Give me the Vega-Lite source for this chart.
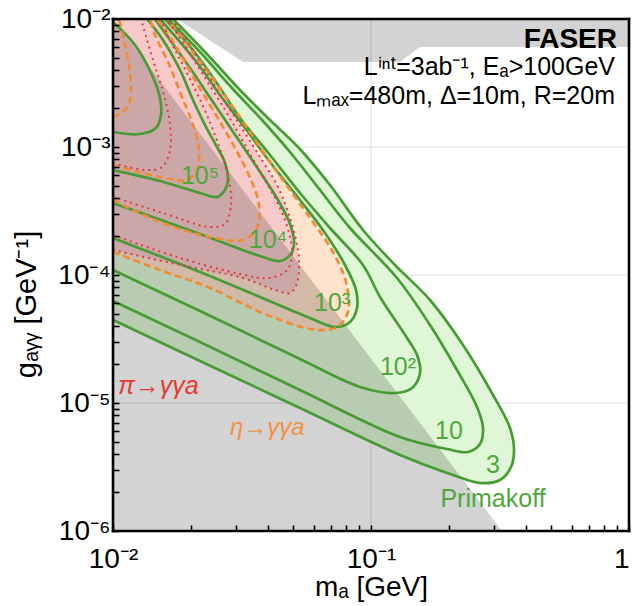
{
"$schema":"https://vega.github.io/schema/vega-lite/v6.json",
"width":516,"height":512,
"autosize":{"type":"none"},
"padding":{"left":113,"top":19,"right":6,"bottom":75},
"background":"white",
"config":{"view":{"stroke":null},"font":"Liberation Sans"},
"datasets":{
"curves":[
{"c":"G3","i":0,"m":0.01,"g":4.45e-5},{"c":"G3","i":1,"m":0.02174,"g":2.129e-5},{"c":"G3","i":2,"m":0.05306,"g":9.14e-6},{"c":"G3","i":3,"m":0.1295,"g":3.923e-6},{"c":"G3","i":4,"m":0.2025,"g":2.788e-6},{"c":"G3","i":5,"m":0.2645,"g":2.371e-6},{"c":"G3","i":6,"m":0.3162,"g":2.503e-6},{"c":"G3","i":7,"m":0.3489,"g":3.162e-6},{"c":"G3","i":8,"m":0.3584,"g":4.293e-6},{"c":"G3","i":9,"m":0.3458,"g":6.378e-6},{"c":"G3","i":10,"m":0.2971,"g":1.155e-5},{"c":"G3","i":11,"m":0.2273,"g":2.839e-5},{"c":"G3","i":12,"m":0.1693,"g":6.378e-5},{"c":"G3","i":13,"m":0.1239,"g":1.197e-4},{"c":"G3","i":14,"m":0.09311,"g":2.247e-4},{"c":"G3","i":15,"m":0.06935,"g":5.048e-4},{"c":"G3","i":16,"m":0.05212,"g":1e-3},{"c":"G3","i":17,"m":0.0406,"g":1.625e-3},{"c":"G3","i":18,"m":0.03106,"g":2.788e-3},{"c":"G3","i":19,"m":0.02273,"g":5.524e-3},{"c":"G3","i":20,"m":0.01708,"g":1e-2},{"c":"G3","i":99,"m":0.01,"g":1e-2,"e":1},
{"c":"G10","i":0,"m":0.01,"g":6.265e-5},{"c":"G10","i":1,"m":0.02174,"g":2.996e-5},{"c":"G10","i":2,"m":0.05306,"g":1.264e-5},{"c":"G10","i":3,"m":0.1295,"g":5.425e-6},{"c":"G10","i":4,"m":0.1971,"g":4.371e-6},{"c":"G10","i":5,"m":0.2377,"g":4.142e-6},{"c":"G10","i":6,"m":0.2645,"g":4.783e-6},{"c":"G10","i":7,"m":0.2717,"g":6.378e-6},{"c":"G10","i":8,"m":0.2576,"g":9.305e-6},{"c":"G10","i":9,"m":0.2154,"g":1.811e-5},{"c":"G10","i":10,"m":0.1693,"g":4.068e-5},{"c":"G10","i":11,"m":0.1261,"g":9.475e-5},{"c":"G10","i":12,"m":0.08291,"g":2.329e-4},{"c":"G10","i":13,"m":0.06342,"g":4.614e-4},{"c":"G10","i":14,"m":0.04853,"g":9.14e-4},{"c":"G10","i":15,"m":0.03781,"g":1.625e-3},{"c":"G10","i":16,"m":0.02892,"g":2.891e-3},{"c":"G10","i":17,"m":0.02174,"g":5.524e-3},{"c":"G10","i":18,"m":0.01634,"g":1e-2},
{"c":"G100","i":0,"m":0.01,"g":1.094e-4},{"c":"G100","i":1,"m":0.02174,"g":5.233e-5},{"c":"G100","i":2,"m":0.05306,"g":2.207e-5},{"c":"G100","i":3,"m":0.09065,"g":1.334e-5},{"c":"G100","i":4,"m":0.1239,"g":1.197e-5},{"c":"G100","i":5,"m":0.1442,"g":1.31e-5},{"c":"G100","i":6,"m":0.1549,"g":1.716e-5},{"c":"G100","i":7,"m":0.1508,"g":2.371e-5},{"c":"G100","i":8,"m":0.1379,"g":3.22e-5},{"c":"G100","i":9,"m":0.1084,"g":6.733e-5},{"c":"G100","i":10,"m":0.09311,"g":1.197e-4},{"c":"G100","i":11,"m":0.06935,"g":2.329e-4},{"c":"G100","i":12,"m":0.05306,"g":4.371e-4},{"c":"G100","i":13,"m":0.0406,"g":8.66e-4},{"c":"G100","i":14,"m":0.03106,"g":1.685e-3},{"c":"G100","i":15,"m":0.02553,"g":3.051e-3},{"c":"G100","i":16,"m":0.02042,"g":5.727e-3},{"c":"G100","i":17,"m":0.01591,"g":1e-2},
{"c":"G1000","i":0,"m":0.01,"g":1.946e-4},{"c":"G1000","i":1,"m":0.02174,"g":1.055e-4},{"c":"G1000","i":2,"m":0.03714,"g":6.733e-5},{"c":"G1000","i":3,"m":0.05801,"g":4.614e-5},{"c":"G1000","i":4,"m":0.07251,"g":3.923e-5},{"c":"G1000","i":5,"m":0.08291,"g":4.293e-5},{"c":"G1000","i":6,"m":0.08825,"g":5.524e-5},{"c":"G1000","i":7,"m":0.08748,"g":7.634e-5},{"c":"G1000","i":8,"m":0.07929,"g":1.197e-4},{"c":"G1000","i":9,"m":0.06632,"g":2.129e-4},{"c":"G1000","i":10,"m":0.05306,"g":3.854e-4},{"c":"G1000","i":11,"m":0.0406,"g":7.634e-4},{"c":"G1000","i":12,"m":0.03248,"g":1.407e-3},{"c":"G1000","i":13,"m":0.02598,"g":2.548e-3},{"c":"G1000","i":14,"m":0.02079,"g":4.783e-3},{"c":"G1000","i":15,"m":0.01521,"g":1e-2},
{"c":"G1e4","i":0,"m":0.01,"g":3.652e-4},{"c":"G1e4","i":1,"m":0.02174,"g":2.091e-4},{"c":"G1e4","i":2,"m":0.03714,"g":1.407e-4},{"c":"G1e4","i":3,"m":0.0444,"g":1.287e-4},{"c":"G1e4","i":4,"m":0.04897,"g":1.459e-4},{"c":"G1e4","i":5,"m":0.0503,"g":1.811e-4},{"c":"G1e4","i":6,"m":0.04853,"g":2.503e-4},{"c":"G1e4","i":7,"m":0.04361,"g":3.854e-4},{"c":"G1e4","i":8,"m":0.03781,"g":6.042e-4},{"c":"G1e4","i":9,"m":0.03106,"g":1.094e-3},{"c":"G1e4","i":10,"m":0.02485,"g":2.129e-3},{"c":"G1e4","i":11,"m":0.01988,"g":4.142e-3},{"c":"G1e4","i":12,"m":0.01664,"g":6.853e-3},{"c":"G1e4","i":13,"m":0.01455,"g":1e-2},
{"c":"G1e5","i":0,"m":0.01,"g":6.611e-4},{"c":"G1e5","i":1,"m":0.01521,"g":5.425e-4},{"c":"G1e5","i":2,"m":0.02174,"g":4.371e-4},{"c":"G1e5","i":3,"m":0.0253,"g":4.068e-4},{"c":"G1e5","i":4,"m":0.02717,"g":4.614e-4},{"c":"G1e5","i":5,"m":0.02791,"g":5.524e-4},{"c":"G1e5","i":6,"m":0.02717,"g":7.499e-4},{"c":"G1e5","i":7,"m":0.0253,"g":1e-3},{"c":"G1e5","i":8,"m":0.02273,"g":1.485e-3},{"c":"G1e5","i":9,"m":0.02042,"g":2.329e-3},{"c":"G1e5","i":10,"m":0.01819,"g":3.996e-3},{"c":"G1e5","i":11,"m":0.01562,"g":6.853e-3},{"c":"G1e5","i":12,"m":0.01355,"g":1e-2},
{"c":"G1e6","i":0,"m":0.01,"g":9.475e-3},{"c":"G1e6","i":1,"m":0.01217,"g":6.265e-3},{"c":"G1e6","i":2,"m":0.01417,"g":3.652e-3},{"c":"G1e6","i":3,"m":0.01521,"g":2.415e-3},{"c":"G1e6","i":4,"m":0.01535,"g":1.778e-3},{"c":"G1e6","i":5,"m":0.01468,"g":1.407e-3},{"c":"G1e6","i":6,"m":0.01273,"g":1.264e-3},{"c":"G1e6","i":7,"m":0.01,"g":1.31e-3},
{"c":"E1","i":0,"m":0.01,"g":1.746e-3},{"c":"E1","i":1,"m":0.01084,"g":1.844e-3},{"c":"E1","i":2,"m":0.01153,"g":2.168e-3},{"c":"E1","i":3,"m":0.01174,"g":2.788e-3},{"c":"E1","i":4,"m":0.01153,"g":4.371e-3},{"c":"E1","i":5,"m":0.01103,"g":6.853e-3},{"c":"E1","i":6,"m":0.01055,"g":1e-2},
{"c":"E2","i":0,"m":0.01,"g":7.235e-4},{"c":"E2","i":1,"m":0.01521,"g":5.83e-4},{"c":"E2","i":2,"m":0.01935,"g":5.524e-4},{"c":"E2","i":3,"m":0.02116,"g":6.611e-4},{"c":"E2","i":4,"m":0.02154,"g":9.475e-4},{"c":"E2","i":5,"m":0.02042,"g":1.485e-3},{"c":"E2","i":6,"m":0.01851,"g":2.459e-3},{"c":"E2","i":7,"m":0.01634,"g":4.614e-3},{"c":"E2","i":8,"m":0.01455,"g":7.499e-3},{"c":"E2","i":9,"m":0.01391,"g":1e-2},
{"c":"E3","i":0,"m":0.01,"g":3.854e-4},{"c":"E3","i":1,"m":0.01521,"g":2.595e-4},{"c":"E3","i":2,"m":0.02377,"g":1.981e-4},{"c":"E3","i":3,"m":0.0319,"g":1.877e-4},{"c":"E3","i":4,"m":0.03615,"g":2.329e-4},{"c":"E3","i":5,"m":0.03681,"g":3.524e-4},{"c":"E3","i":6,"m":0.03427,"g":5.524e-4},{"c":"E3","i":7,"m":0.02998,"g":9.475e-4},{"c":"E3","i":8,"m":0.02507,"g":1.778e-3},{"c":"E3","i":9,"m":0.02079,"g":3.338e-3},{"c":"E3","i":10,"m":0.01693,"g":6.853e-3},{"c":"E3","i":11,"m":0.01481,"g":1e-2},
{"c":"E4","i":0,"m":0.01,"g":1.512e-4},{"c":"E4","i":1,"m":0.01521,"g":1.094e-4},{"c":"E4","i":2,"m":0.02377,"g":7.913e-5},{"c":"E4","i":3,"m":0.03953,"g":4.87e-5},{"c":"E4","i":4,"m":0.06175,"g":3.718e-5},{"c":"E4","i":5,"m":0.07381,"g":3.923e-5},{"c":"E4","i":6,"m":0.08145,"g":5.14e-5},{"c":"E4","i":7,"m":0.08,"g":8.818e-5},{"c":"E4","i":8,"m":0.07122,"g":1.512e-4},{"c":"E4","i":9,"m":0.05958,"g":2.595e-4},{"c":"E4","i":10,"m":0.04853,"g":4.614e-4},{"c":"E4","i":11,"m":0.03781,"g":9.475e-4},{"c":"E4","i":12,"m":0.02971,"g":1.946e-3},{"c":"E4","i":13,"m":0.02273,"g":4.142e-3},{"c":"E4","i":14,"m":0.01819,"g":7.499e-3},{"c":"E4","i":15,"m":0.01619,"g":1e-2},{"c":"E4","i":99,"m":0.01,"g":1e-2,"e":1},
{"c":"P1","i":0,"m":0.01,"g":7.499e-4},{"c":"P1","i":1,"m":0.01331,"g":6.611e-4},{"c":"P1","i":2,"m":0.01549,"g":6.978e-4},{"c":"P1","i":3,"m":0.01664,"g":9.475e-4},{"c":"P1","i":4,"m":0.01664,"g":1.485e-3},{"c":"P1","i":5,"m":0.01576,"g":2.548e-3},{"c":"P1","i":6,"m":0.01429,"g":4.783e-3},{"c":"P1","i":7,"m":0.01284,"g":1e-2},
{"c":"P2","i":0,"m":0.01,"g":4.068e-4},{"c":"P2","i":1,"m":0.01521,"g":3.106e-4},{"c":"P2","i":2,"m":0.02377,"g":2.371e-4},{"c":"P2","i":3,"m":0.02717,"g":2.503e-4},{"c":"P2","i":4,"m":0.02867,"g":3.524e-4},{"c":"P2","i":5,"m":0.02816,"g":5.524e-4},{"c":"P2","i":6,"m":0.02622,"g":9.14e-4},{"c":"P2","i":7,"m":0.02356,"g":1.625e-3},{"c":"P2","i":8,"m":0.02042,"g":3.051e-3},{"c":"P2","i":9,"m":0.01739,"g":5.727e-3},{"c":"P2","i":10,"m":0.01521,"g":1e-2},
{"c":"P3","i":0,"m":0.01,"g":2.054e-4},{"c":"P3","i":1,"m":0.0177,"g":1.382e-4},{"c":"P3","i":2,"m":0.03106,"g":1.018e-4},{"c":"P3","i":3,"m":0.0406,"g":9.475e-5},{"c":"P3","i":4,"m":0.04726,"g":1.094e-4},{"c":"P3","i":5,"m":0.04941,"g":1.433e-4},{"c":"P3","i":6,"m":0.04812,"g":2.129e-4},{"c":"P3","i":7,"m":0.0444,"g":3.338e-4},{"c":"P3","i":8,"m":0.03883,"g":5.524e-4},{"c":"P3","i":9,"m":0.03248,"g":1.036e-3},{"c":"P3","i":10,"m":0.02717,"g":1.946e-3},{"c":"P3","i":11,"m":0.02174,"g":3.996e-3},{"c":"P3","i":12,"m":0.01786,"g":7.499e-3},{"c":"P3","i":13,"m":0.01605,"g":1e-2},
{"c":"P4","i":0,"m":0.01,"g":1.568e-4},{"c":"P4","i":1,"m":0.01819,"g":1.197e-4},{"c":"P4","i":2,"m":0.0319,"g":9.475e-5},{"c":"P4","i":3,"m":0.04246,"g":7.634e-5},{"c":"P4","i":4,"m":0.04853,"g":7.235e-5},{"c":"P4","i":5,"m":0.05166,"g":8.66e-5},{"c":"P4","i":6,"m":0.0526,"g":1.264e-4},{"c":"P4","i":7,"m":0.0512,"g":1.877e-4},{"c":"P4","i":8,"m":0.04769,"g":3.106e-4},{"c":"P4","i":9,"m":0.04323,"g":5.048e-4},{"c":"P4","i":10,"m":0.03781,"g":7.913e-4},{"c":"P4","i":11,"m":0.0319,"g":1.358e-3},{"c":"P4","i":12,"m":0.02645,"g":2.459e-3},{"c":"P4","i":13,"m":0.02174,"g":4.614e-3},{"c":"P4","i":14,"m":0.01819,"g":8.206e-3},{"c":"P4","i":15,"m":0.01693,"g":1e-2},{"c":"P4","i":99,"m":0.01,"g":1e-2,"e":1}
],
"gray":[
{"c":"low","i":0,"m":0.01,"g":1e-6},{"c":"low","i":1,"m":0.01,"g":1e-2},{"c":"low","i":2,"m":0.3219,"g":1e-6},
{"c":"top","i":0,"m":0.0177,"g":1e-2},{"c":"top","i":1,"m":0.0319,"g":4.614e-3},{"c":"top","i":2,"m":0.1295,"g":4.614e-3},{"c":"top","i":3,"m":0.1549,"g":6.043e-3},{"c":"top","i":4,"m":1,"g":6.043e-3},{"c":"top","i":5,"m":1,"g":1e-2}
]
},
"encoding":{
"x":{"field":"m","type":"quantitative","scale":{"type":"log","domain":[0.01,1],"nice":false},
"axis":{"values":[0.01,0.02,0.03,0.04,0.05,0.06,0.07,0.08,0.09,0.1,0.2,0.3,0.4,0.5,0.6,0.7,0.8,0.9,1],
"labelExpr":"datum.value == 0.01 ? '10⁻²' : datum.value == 0.1 ? '10⁻¹' : datum.value == 1 ? '1' : ''",
"labelAlign":{"condition":{"test":"datum.value == 1","value":"right"},"value":"center"},
"title":"mₐ [GeV]","grid":false,"domain":false,"tickSize":-6,"tickWidth":1.6,"tickColor":"#000",
"labelFontSize":28,"labelColor":"#000","labelFont":"Liberation Sans","labelPadding":20,"labelFlush":false,"labelOverlap":false,
"titleFontSize":28,"titleFont":"Liberation Sans","titleFontWeight":"normal","titleColor":"#000","titleBaseline":"alphabetic","titleY":64,"zindex":1}},
"y":{"field":"g","type":"quantitative","scale":{"type":"log","domain":[1e-6,1e-2],"nice":false},
"axis":{"values":[1e-6,2e-6,3e-6,4e-6,5e-6,6e-6,7e-6,8e-6,9e-6,1e-5,2e-5,3e-5,4e-5,5e-5,6e-5,7e-5,8e-5,9e-5,1e-4,2e-4,3e-4,4e-4,5e-4,6e-4,7e-4,8e-4,9e-4,1e-3,2e-3,3e-3,4e-3,5e-3,6e-3,7e-3,8e-3,9e-3,1e-2],
"labelExpr":"datum.value == 1e-6 ? '10⁻⁶' : datum.value == 1e-5 ? '10⁻⁵' : datum.value == 1e-4 ? '10⁻⁴' : datum.value == 1e-3 ? '10⁻³' : datum.value == 1e-2 ? '10⁻²' : ''",
"title":"gₐᵧᵧ [GeV⁻¹]","grid":false,"domain":false,"tickSize":-6,"tickWidth":1.6,"tickColor":"#000",
"labelFontSize":28,"labelColor":"#000","labelFont":"Liberation Sans","labelPadding":9,"labelFlush":false,"labelOverlap":false,
"titleFontSize":29,"titleFont":"Liberation Sans","titleFontWeight":"normal","titleColor":"#000","titleX":-78,"titleY":285,"titleBaseline":"alphabetic","zindex":1}}
},
"layer":[
{"data":{"values":[{"m":0.1,"g":1e-6,"m2":0.1,"g2":1e-2},{"m":0.01,"g":1e-3,"m2":1,"g2":1e-3},{"m":0.01,"g":1e-4,"m2":1,"g2":1e-4},{"m":0.01,"g":1e-5,"m2":1,"g2":1e-5}]},
 "mark":{"type":"rule","color":"#dedede","strokeWidth":1},
 "encoding":{"x2":{"field":"m2"},"y2":{"field":"g2"}}},
{"data":{"name":"curves"},"transform":[{"filter":"datum.c == 'G3'"}],
 "mark":{"type":"line","interpolate":"catmull-rom","fill":"#dff7d6","strokeWidth":0,"strokeOpacity":0,"clip":true},
 "encoding":{"order":{"field":"i","type":"quantitative"}}},
{"data":{"name":"curves"},"transform":[{"filter":"datum.c == 'E4'"}],
 "mark":{"type":"line","interpolate":"catmull-rom","fill":"#fde3cc","strokeWidth":0,"strokeOpacity":0,"clip":true},
 "encoding":{"order":{"field":"i","type":"quantitative"}}},
{"data":{"name":"curves"},"transform":[{"filter":"datum.c == 'P4'"}],
 "mark":{"type":"line","interpolate":"catmull-rom","fill":"#f7caca","strokeWidth":0,"strokeOpacity":0,"clip":true},
 "encoding":{"order":{"field":"i","type":"quantitative"}}},
{"data":{"name":"gray"},
 "mark":{"type":"line","interpolate":"linear","fill":"#000","fillOpacity":0.173,"strokeWidth":0,"strokeOpacity":0,"clip":true},
 "encoding":{"detail":{"field":"c"},"order":{"field":"i","type":"quantitative"}}},
{"data":{"name":"curves"},"transform":[{"filter":"!datum.e && substring(datum.c,0,1) == 'G'"}],
 "mark":{"type":"line","interpolate":"catmull-rom","color":"#479c35","strokeWidth":2.7,"clip":true},
 "encoding":{"detail":{"field":"c"},"order":{"field":"i","type":"quantitative"}}},
{"data":{"name":"curves"},"transform":[{"filter":"!datum.e && substring(datum.c,0,1) == 'E'"}],
 "mark":{"type":"line","interpolate":"catmull-rom","color":"#f08c35","strokeWidth":2.7,"strokeDash":[7,4],"clip":true},
 "encoding":{"detail":{"field":"c"},"order":{"field":"i","type":"quantitative"}}},
{"data":{"name":"curves"},"transform":[{"filter":"!datum.e && substring(datum.c,0,1) == 'P'"}],
 "mark":{"type":"line","interpolate":"catmull-rom","color":"#e03a44","strokeWidth":2,"strokeDash":[2,4],"clip":true},
 "encoding":{"detail":{"field":"c"},"order":{"field":"i","type":"quantitative"}}},
{"data":{"values":[{"t":"10⁵","m":0.02174,"g":5.934e-4},{"t":"10⁴","m":0.03989,"g":1.877e-4},{"t":"10³","m":0.07063,"g":6.04e-5},{"t":"10²","m":0.1272,"g":1.911e-5},{"t":"10","m":0.2006,"g":6.04e-6},{"t":"3","m":0.2971,"g":3.279e-6},{"t":"Primakoff","m":0.2971,"g":1.778e-6}]},
 "mark":{"type":"text","color":"#4fa83c","fontSize":25,"align":"center","baseline":"middle","font":"Liberation Sans"},
 "encoding":{"text":{"field":"t"}}},
{"data":{"values":[{"t":"π→γγa","m":0.01046,"g":1.358e-5}]},
 "mark":{"type":"text","color":"#e5392f","fontSize":25,"fontStyle":"italic","align":"left","baseline":"middle","font":"Liberation Sans"},
 "encoding":{"text":{"field":"t"}}},
{"data":{"values":[{"t":"η→γγa","m":0.02842,"g":6.378e-6}]},
 "mark":{"type":"text","color":"#f0923e","fontSize":24,"fontStyle":"italic","align":"left","baseline":"middle","font":"Liberation Sans"},
 "encoding":{"text":{"field":"t"}}},
{"data":{"values":[{"t":"FASER","m":0.8985,"g":5.934e-3}]},
 "mark":{"type":"text","color":"#000","fontSize":28,"fontWeight":"bold","align":"right","baseline":"alphabetic","font":"Liberation Sans"},
 "encoding":{"text":{"field":"t"}}},
{"data":{"values":[{"t":"Lⁱⁿᵗ=3ab⁻¹, Eₐ>100GeV","m":0.8826,"g":3.652e-3},{"t":"Lₘₐₓ=480m, Δ=10m, R=20m","m":0.8826,"g":2.168e-3}]},
 "mark":{"type":"text","color":"#000","fontSize":25,"align":"right","baseline":"alphabetic","font":"Liberation Sans"},
 "encoding":{"text":{"field":"t"}}},
{"data":{"values":[{"m":0.01,"g":1e-2,"m2":1,"g2":1e-2},{"m":1,"g":1e-6,"m2":1,"g2":1e-2},{"m":0.01,"g":1e-6,"m2":1,"g2":1e-6},{"m":0.01,"g":1e-6,"m2":0.01,"g2":1e-2}]},
 "mark":{"type":"rule","color":"#000","strokeWidth":2.6,"strokeCap":"square"},
 "encoding":{"x2":{"field":"m2"},"y2":{"field":"g2"}}}
]
}
